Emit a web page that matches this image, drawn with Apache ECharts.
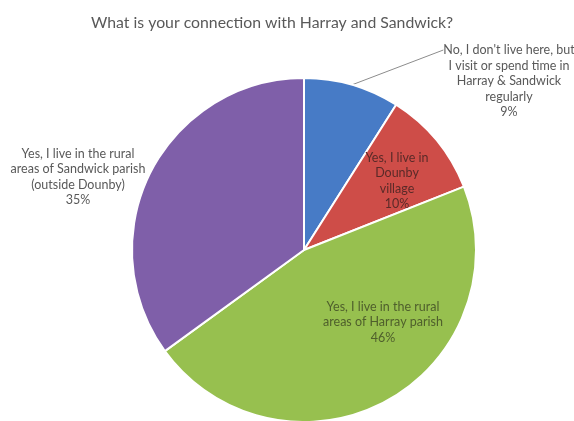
<!DOCTYPE html>
<html lang="en">
<head>
<meta charset="UTF-8">
<title>Harray and Sandwick</title>
<script src="https://cdn.jsdelivr.net/npm/echarts@6/dist/echarts.min.js"></script>
<style>
  html, body { margin: 0; padding: 0; background: #fff; }
  #main { width: 574px; height: 421px; }
</style>
</head>
<body>
<div id="main"></div>
<script>
// answers and share of respondents (%)
var categories = [
  "No, I don't live here, but\nI visit or spend time in\nHarray & Sandwick\nregularly",
  "Yes, I live in\nDounby\nvillage",
  "Yes, I live in the rural\nareas of Harray parish",
  "Yes, I live in the rural\nareas of Sandwick parish\n(outside Dounby)"
];
var values = [9, 10, 46, 35];

var colors = ['#477bc6', '#ce4d48', '#97c04f', '#7f5fa9'];
// where each label block is centred (blue: centred on its first line)
var labelPos = [[509, 50], [397, 181], [383, 322], [78, 177]];
var labelColor = ['#595959', '#5a2a28', '#4f5f2c', '#595959'];

var chart = echarts.init(document.getElementById('main'));

var data = [];
for (var i = 0; i < values.length; i++) {
  data.push({
    name: categories[i],
    value: values[i],
    itemStyle: { color: colors[i] },
    label: {
      position: (i === 1 || i === 2) ? 'inside' : 'outside',
      color: labelColor[i]
    },
    labelLine: { show: i === 0 }
  });
}

chart.setOption({
  animation: false,
  title: {
    text: 'What is your connection with Harray and Sandwick?',
    left: 86,
    top: 10,
    textStyle: {
      fontFamily: 'Lato',
      fontSize: 15.8,
      fontWeight: 'normal',
      color: '#595959'
    }
  },
  series: [{
    type: 'pie',
    center: [304, 250],
    radius: 172,
    startAngle: 90,
    clockwise: true,
    data: data,
    itemStyle: { borderColor: '#fff', borderWidth: 2 },
    label: {
      fontFamily: 'Lato',
      fontSize: 12.5,
      lineHeight: 15.5,
      align: 'center',
      overflow: 'none',
      formatter: function (p) {
        // blank lines above the blue label so its leader line meets the first line
        var lead = p.dataIndex === 0 ? '\n\n\n\n' : '';
        return lead + p.name + '\n' + p.value + '%';
      }
    },
    labelLine: {
      length: 10,
      length2: 0,
      lineStyle: { color: '#8c8c8c', width: 1 }
    },
    labelLayout: function (p) {
      var c = labelPos[p.dataIndex];
      return { x: c[0], y: c[1], align: 'center', verticalAlign: 'middle' };
    }
  }]
});
</script>
</body>
</html>
